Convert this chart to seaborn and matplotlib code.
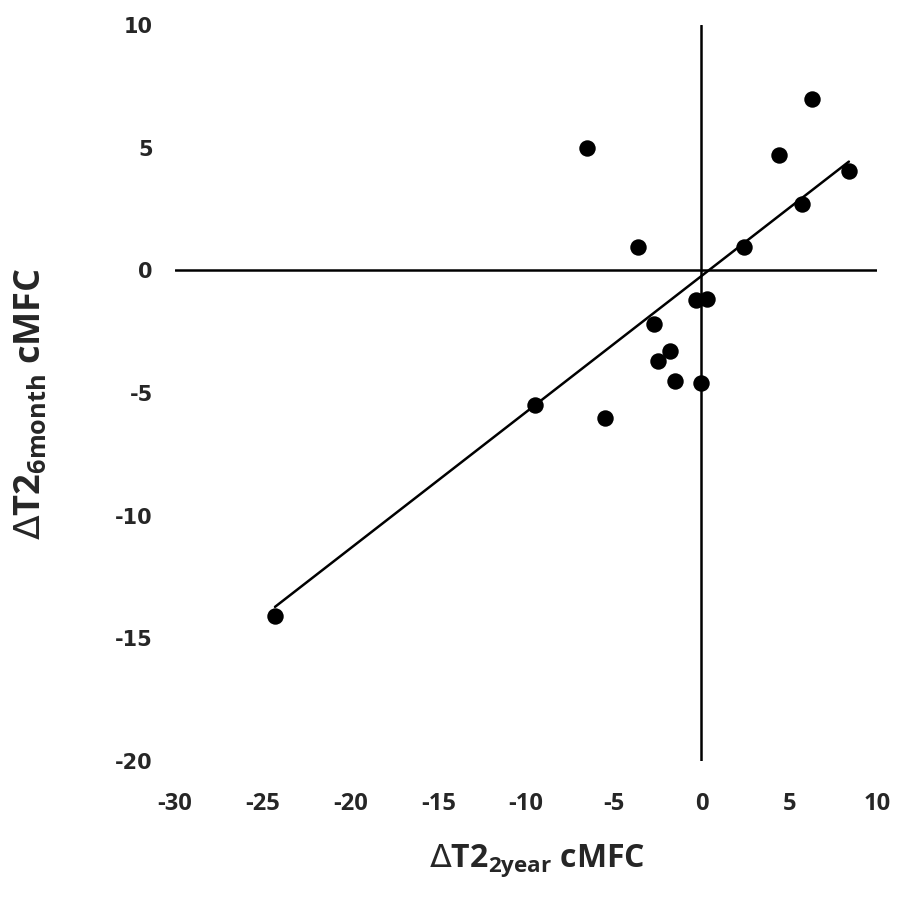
import numpy as np
import pandas as pd
import matplotlib
matplotlib.use("Agg")
import matplotlib.pyplot as plt
import seaborn as sns

# change in T2 over 2 years vs over 6 months (cMFC)
dt2_2year = [-24.3, -9.5, -5.5, -6.5, -3.6, -2.7, -2.5, -1.8, -1.5, 0.0,
             -0.3, 0.3, 2.4, 4.4, 5.75, 6.3, 8.4]
dt2_6month = [-14.1, -5.5, -6.0, 5.0, 0.95, -2.2, -3.7, -3.3, -4.5, -4.6,
              -1.2, -1.15, 0.95, 4.7, 2.7, 7.0, 4.05]
x_ticks = [-30, -25, -20, -15, -10, -5, 0, 5, 10]
y_ticks = [-20, -15, -10, -5, 0, 5, 10]

df = pd.DataFrame({"x": dt2_2year, "y": dt2_6month})

sns.set_style("white")
plt.rcParams["font.family"] = ["Open Sans", "DejaVu Sans"]
plt.rcParams["axes.unicode_minus"] = False

fig = plt.figure(figsize=(9, 9.18), dpi=100)
ax = fig.add_axes([0.1944, 0.171, 0.78, 0.8017])

ax.axhline(0, color="black", lw=1.8, zorder=1)
ax.axvline(0, color="black", lw=1.8, zorder=1)

sns.regplot(data=df, x="x", y="y", ax=ax, ci=None, truncate=True,
            scatter_kws={"s": 140, "color": "black", "alpha": 1,
                         "zorder": 3, "linewidths": 0},
            line_kws={"color": "black", "lw": 1.8, "zorder": 2})

ax.set_xlim(-30, 10)
ax.set_ylim(-20, 10)
ax.set_xticks(x_ticks)
ax.set_yticks(y_ticks)
ax.tick_params(length=0)
ax.tick_params(axis="x", pad=22, labelsize=17)
ax.tick_params(axis="y", pad=16, labelsize=15)
for lab in ax.get_xticklabels():
    lab.set_fontweight("bold")
for lab in ax.get_yticklabels():
    lab.set_fontweight("bold")
    lab.set_family("DejaVu Sans")
for s in ax.spines.values():
    s.set_visible(False)

ax.set_xlabel(r"$\Delta$T2$_{\mathregular{2year}}$ cMFC", fontsize=23,
              fontweight="bold")
ax.set_ylabel(r"$\Delta$T2$_{\mathregular{6month}}$ cMFC", fontsize=26,
              fontweight="bold")
ax.xaxis.set_label_coords(0.516, -0.11)
ax.yaxis.set_label_coords(-0.18, 0.485)

fig.savefig("out.png", dpi=100)
